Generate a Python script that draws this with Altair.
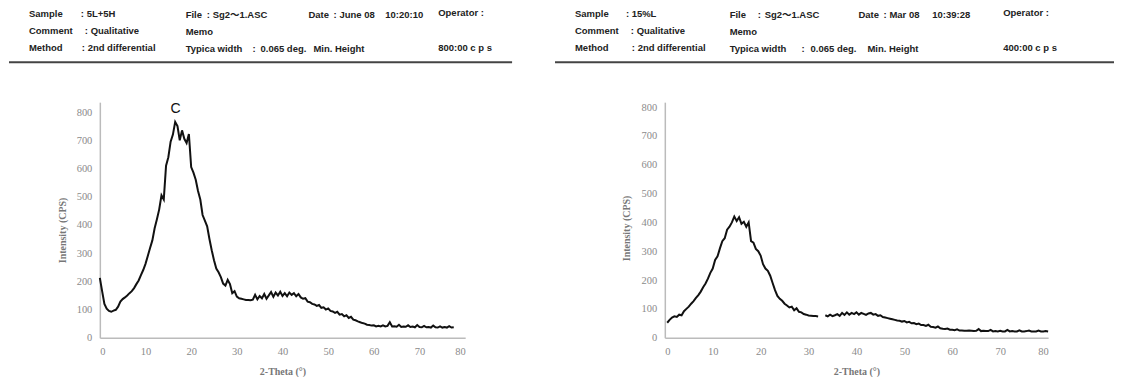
import altair as alt
import numpy as np
import pandas as pd

# ---------------- data ----------------
left_theta = np.arange(0, 78, 0.5)
left_cps = [
    212, 165, 120, 103, 95, 92, 96, 99, 110, 128,
    137, 143, 150, 158, 165, 176, 190, 203, 222, 240,
    262, 290, 318, 345, 388, 420, 455, 505, 490, 610,
    640, 695, 720, 765, 750, 700, 735, 705, 690, 722,
    605, 585, 560, 520, 490, 435, 415, 395, 350, 310,
    275, 245, 232, 215, 192, 185, 205, 190, 158, 165,
    146, 140, 138, 136, 134, 134, 133, 135, 152, 136,
    148, 140, 155, 138, 150, 162, 145, 160, 150, 163,
    148, 158, 147, 160, 152, 158, 147, 155, 143, 138,
    140, 128, 126, 120, 118, 113, 116, 106, 108, 100,
    104, 95, 93, 88, 92, 82, 84, 76, 80, 70,
    74, 64, 62, 58, 55, 52, 50, 46, 45, 43,
    44, 40, 42, 40, 44, 40, 42, 55, 40, 41,
    39, 46, 38, 40, 39, 44, 38, 40, 37, 45,
    38, 37, 42, 37, 38, 36, 43, 37, 36, 40,
    36, 38, 36, 41, 36, 37,
]

right_theta = np.arange(0.5, 80.5, 0.5)
right_cps = [
    52, 62, 70, 74, 72, 80, 78, 92, 100, 108,
    118, 127, 138, 148, 160, 175, 188, 205, 225, 240,
    270, 282, 310, 335, 345, 375, 385, 400, 420, 405,
    418, 395, 402, 385, 400, 335, 330, 308, 300, 285,
    255, 240, 232, 215, 190, 165, 145, 135, 128, 118,
    112, 105, 108, 95, 102, 90, 88, 82, 80, 77,
    76, 75, 75, 74, None, None, 78, 74, 80, 75,
    78, 82, 76, 86, 79, 88, 80, 86, 82, 88,
    80, 86, 83, 79, 84, 86, 80, 82, 76, 78,
    72, 70, 68, 66, 64, 62, 60, 59, 56, 58,
    53, 55, 50, 51, 47, 49, 44, 44, 41, 45,
    38, 37, 35, 39, 33, 31, 30, 32, 28, 28,
    26, 29, 25, 25, 24, 24, 25, 24, 23, 24,
    30, 23, 24, 23, 23, 27, 22, 23, 22, 24,
    22, 22, 27, 22, 23, 22, 22, 26, 22, 22,
    23, 25, 22, 22, 22, 25, 22, 22, 23, 22,
]

y_ticks = [0, 100, 200, 300, 400, 500, 600, 700, 800]
x_ticks = [0, 10, 20, 30, 40, 50, 60, 70, 80]

left_header = [
    ["Sample", ": 5L+5H", "File", ":", "Sg2～1.ASC", "Date", ":", "June 08", "10:20:10", "Operator :"],
    ["Comment", ": Qualitative", "Memo"],
    ["Method", ": 2nd differential", "Typica width", ":", "0.065 deg.", "Min. Height", "800:00 c p s"],
]
right_header = [
    ["Sample", ": 15%L", "File", ":", "Sg2～1.ASC", "Date", ":", "Mar 08", "10:39:28", "Operator :"],
    ["Comment", ": Qualitative", "Memo"],
    ["Method", ": 2nd differential", "Typica width", ":", "0.065 deg.", "Min. Height", "400:00 c p s"],
]
peak_label = ["C"]
peak_pos = [16.6, 812]

# ---------------- layout (page pixels) ----------------
LEFT_ORIGIN = (99, 102)
RIGHT_ORIGIN = (665, 102)
left_cols = [
    [28, 80, 185, 206, 212, 308, 333, 339, 385, 438],
    [28, 84, 185],
    [28, 81, 185, 252, 260, 313, 438],
]
right_cols = [
    [575, 626, 730, 758, 765, 859, 884, 890, 933, 1004],
    [575, 631, 730],
    [575, 632, 730, 802, 811, 868, 1004],
]
rows_y = [
    [14, 14, 15, 15, 15, 15, 15, 15, 15, 13],
    [31, 31, 32],
    [48, 48, 49, 49, 49, 49, 48],
]
HEADER_LINE_Y = 62

HFONT = "Liberation Sans, Arial, Noto Sans CJK JP"
SERIF = "Liberation Serif"


def make_df(theta, cps):
    seg, s = [], 0
    xs, ys = [], []
    prev_none = False
    for t, v in zip(theta, cps):
        if v is None:
            prev_none = True
            continue
        if prev_none:
            s += 1
            prev_none = False
        xs.append(float(t))
        ys.append(v)
        seg.append(s)
    return pd.DataFrame({"theta": xs, "cps": ys, "seg": seg})


def header_layers(header, cols, origin, line_x):
    ox, oy = origin
    layers = []
    for r, row in enumerate(header):
        for c, txt in enumerate(row):
            layers.append(
                alt.Chart(pd.DataFrame({"t": [txt]}))
                .mark_text(align="left", baseline="middle", font=HFONT,
                           fontSize=9.5, fontWeight="bold", color="#222222")
                .encode(x=alt.value(cols[r][c] - ox), y=alt.value(rows_y[r][c] - oy),
                        text="t:N")
            )
    layers.append(
        alt.Chart(pd.DataFrame({"a": [0]}))
        .mark_rule(color="#444444", strokeWidth=2)
        .encode(x=alt.value(line_x[0] - ox), x2=alt.value(line_x[1] - ox),
                y=alt.value(HEADER_LINE_Y - oy))
    )
    layers.append(
        alt.Chart(pd.DataFrame({"a": [0]}))
        .mark_rule(color="white", strokeWidth=1)
        .encode(x=alt.value(line_x[0] - ox), x2=alt.value(line_x[0] - ox + 5),
                y=alt.value(8.5 - oy))
    )
    return layers


def panel(df, ymax, width, origin, header, cols, line_x, title_pos, label_df=None):
    xax = alt.Axis(values=x_ticks, title="2-Theta (°)", labelFont=SERIF, labelFontSize=10.5,
                   labelColor="#8a8a8a", labelPadding=9, ticks=False, tickSize=0, grid=False,
                   labelOverlap=False,
                   domainColor="#bbbbbb", domainWidth=1.5, titleFont=SERIF,
                   titleFontWeight="bold", titleFontSize=10, titleColor="#777777",
                   titleY=34, titleBaseline="middle")
    yax = alt.Axis(values=y_ticks, title="Intensity (CPS)", labelFont=SERIF, labelFontSize=10.5,
                   labelColor="#8a8a8a", labelPadding=8, ticks=False, tickSize=0, grid=False,
                   labelOverlap=False,
                   domainColor="#bbbbbb", domainWidth=1.5, titleFont=SERIF,
                   titleFontWeight="bold", titleFontSize=10, titleColor="#777777",
                   titleX=title_pos[0], titleY=title_pos[1], titleBaseline="middle",
                   titleAlign="center", titleAngle=270)
    xenc = alt.X("theta:Q", scale=alt.Scale(domain=[0, 80], nice=False, zero=False), axis=xax)
    yenc = alt.Y("cps:Q", scale=alt.Scale(domain=[0, ymax], nice=False), axis=yax)
    line = alt.Chart(df).mark_line(color="#111111", strokeWidth=2).encode(
        x=xenc, y=yenc, detail="seg:N",
    )
    layers = [line]
    if label_df is not None:
        layers.append(
            alt.Chart(label_df)
            .mark_text(font="Liberation Sans", fontSize=14, color="#111111", baseline="middle")
            .encode(x=xenc, y=yenc, text="t:N")
        )
    layers += header_layers(header, cols, origin, line_x)
    return alt.layer(*layers).properties(width=width, height=236)


left_df = make_df(left_theta, left_cps)
right_df = make_df(right_theta, right_cps)
c_df = pd.DataFrame({"theta": [peak_pos[0]], "cps": [peak_pos[1]], "t": peak_label})

left = panel(left_df, 835, 366, LEFT_ORIGIN, left_header, left_cols, (8, 512), (-37, 128), c_df)
right = panel(right_df, 817, 384, RIGHT_ORIGIN, right_header, right_cols, (555, 1115), (-38, 126))

chart = alt.hconcat(left, right, spacing=200, bounds="flush").properties(
    padding=0, background="white"
).configure_view(stroke=None)

chart.save("out.html", embed_options={"renderer": "svg", "actions": False})
